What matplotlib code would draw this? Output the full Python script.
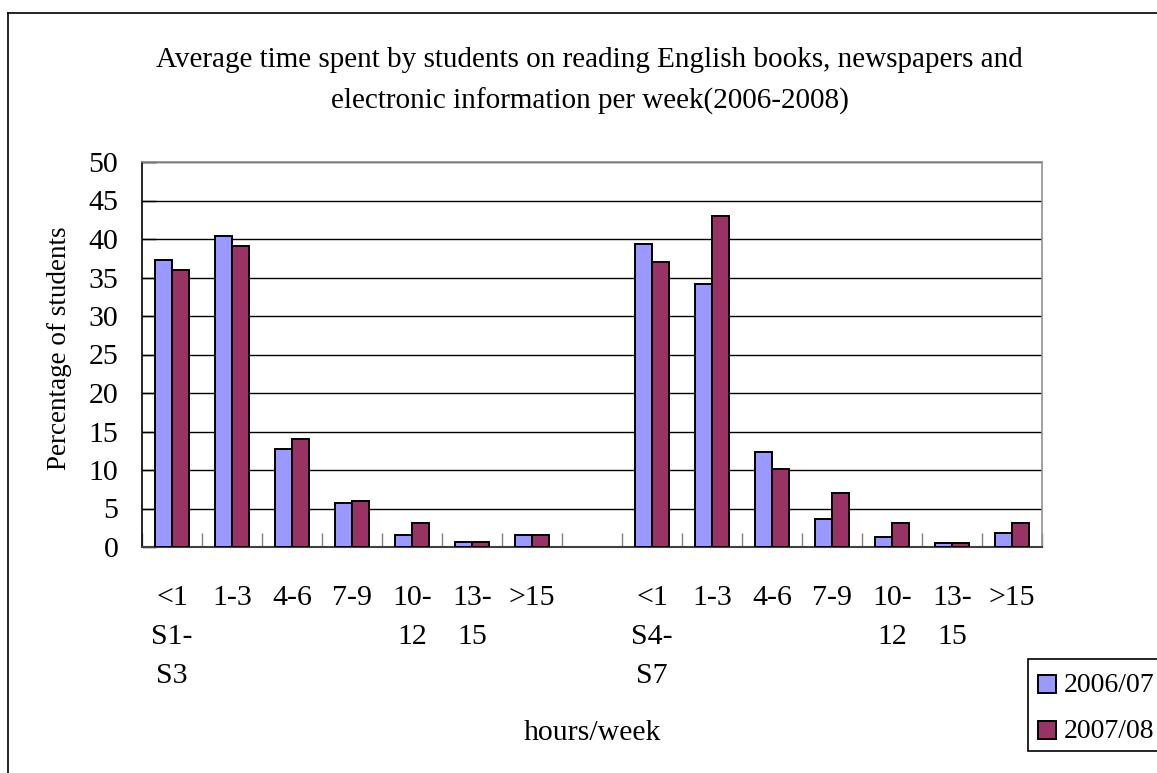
import matplotlib
matplotlib.use("Agg")
import matplotlib.pyplot as plt
from matplotlib.lines import Line2D
from matplotlib.patches import Rectangle
import matplotlib.transforms as mtransforms

plt.rcParams['font.family'] = ['Liberation Serif', 'DejaVu Serif']

# Data
hour_bands = ["<1", "1-3", "4-6", "7-9", "10-\n12", "13-\n15", ">15"]
groups = ["S1-\nS3", "S4-\nS7"]
series_names = ["2006/07", "2007/08"]
s1_s3_2006 = [37.3, 40.4, 12.7, 5.7, 1.5, 0.7, 1.5]
s1_s3_2007 = [36.0, 39.1, 14.0, 6.0, 3.1, 0.7, 1.5]
s4_s7_2006 = [39.4, 34.2, 12.4, 3.6, 1.3, 0.5, 1.8]
s4_s7_2007 = [37.0, 43.0, 10.1, 7.0, 3.1, 0.5, 3.1]

colors = ["#9999FF", "#993366"]

W, H = 1157, 773
fig = plt.figure(figsize=(W / 100, H / 100), dpi=100)

def fx(px):
    return px / W

def fy(py):
    return 1 - py / H

# Outer chart frame (left and top edges visible)
fig.add_artist(Line2D([fx(8), fx(8)], [fy(13), 0], color="black", lw=1.2,
                      transform=fig.transFigure))
fig.add_artist(Line2D([fx(8), 1], [fy(13), fy(13)], color="black", lw=1.2,
                      transform=fig.transFigure))

ax = fig.add_axes([fx(142), fy(547), fx(1042) - fx(142), fy(162) - fy(547)])

n = len(hour_bands)
slots = 2 * n + 1
bw = 0.285
series_by_group = [(s1_s3_2006, s1_s3_2007), (s4_s7_2006, s4_s7_2007)]
for g, (a, b) in enumerate(series_by_group):
    offset = g * (n + 1)
    centers = [offset + i + 0.5 for i in range(n)]
    ax.bar([c - bw / 2 for c in centers], a, width=bw, color=colors[0],
           edgecolor="black", linewidth=1.4, zorder=3)
    ax.bar([c + bw / 2 for c in centers], b, width=bw, color=colors[1],
           edgecolor="black", linewidth=1.4, zorder=3)

ax.set_xlim(0, slots)
ax.set_ylim(0, 50)
ax.set_yticks(range(0, 51, 5))
ax.yaxis.grid(True, color="black", lw=1.0, zorder=0)
ax.set_axisbelow(True)
ax.set_xticks(range(0, slots + 1))
ax.set_xticklabels([])
ax.tick_params(axis="x", direction="in", length=10, color="#808080", width=1)
ax.tick_params(axis="y", direction="in", length=10, color="black", width=1,
               pad=17, labelsize=21.5)
for side in ["top", "right"]:
    ax.spines[side].set_color("#909090")
    ax.spines[side].set_linewidth(1.2)
ax.spines["left"].set_color("black")
ax.spines["left"].set_linewidth(1.2)
ax.spines["bottom"].set_color("#404040")
ax.spines["bottom"].set_linewidth(1.5)

# Category labels below the axis
trans = mtransforms.blended_transform_factory(ax.transData, fig.transFigure)
line_y = [fy(598), fy(637), fy(676)]
for g in range(2):
    offset = g * (n + 1)
    for i, lab in enumerate(hour_bands):
        for k, part in enumerate(lab.split("\n")):
            ax.text(offset + i + 0.5, line_y[k], part, transform=trans,
                    ha="center", va="center", fontsize=21.5, clip_on=False)
    for k, part in enumerate(groups[g].split("\n")):
        ax.text(offset + 0.5, line_y[k + 1], part, transform=trans,
                ha="center", va="center", fontsize=21.5, clip_on=False)

# Titles
fig.text(fx(589), fy(60), "Average time spent by students on reading English books, newspapers and",
         ha="center", va="center", fontsize=21)
fig.text(fx(590), fy(101), "electronic information per week(2006-2008)",
         ha="center", va="center", fontsize=21)
fig.text(fx(60), fy(348), "Percentage of students", rotation=90,
         ha="center", va="center", fontsize=19.5)
fig.text(fx(592), fy(733), "hours/week", ha="center", va="center", fontsize=21.5)

# Legend
fig.add_artist(Rectangle((fx(1028), fy(751)), fx(1200) - fx(1028), fy(659) - fy(751),
                         transform=fig.transFigure, facecolor="white",
                         edgecolor="black", lw=1.2, clip_on=False))
for k, (name, col) in enumerate(zip(series_names, colors)):
    cy = [684, 730][k]
    fig.add_artist(Rectangle((fx(1038), fy(cy + 9)), fx(18), fy(0) - fy(18),
                             transform=fig.transFigure, facecolor=col,
                             edgecolor="black", lw=1.4))
    fig.text(fx(1064), fy(cy + 2), name, ha="left", va="center", fontsize=20)

fig.savefig("out.png", dpi=100)
